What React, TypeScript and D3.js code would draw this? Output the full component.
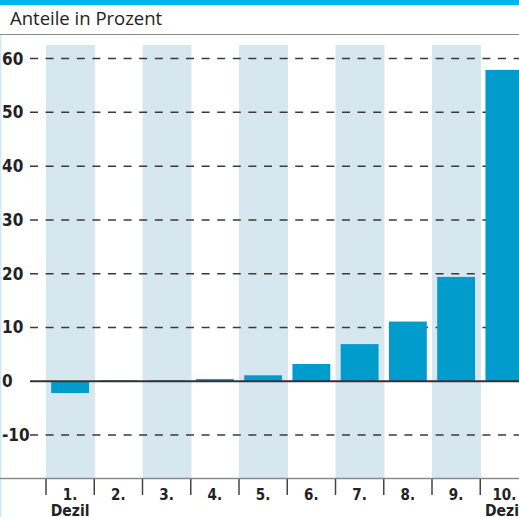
import React from "react";
import * as d3 from "d3";

const categories = ["1.", "2.", "3.", "4.", "5.", "6.", "7.", "8.", "9.", "10."];
const values = [-2.2, 0.15, 0.15, 0.4, 1.1, 3.2, 6.9, 11.1, 19.4, 57.9];
const yTicks = [-10, 0, 10, 20, 30, 40, 50, 60];
const title = "Anteile in Prozent";
const subLabel = "Dezil";

const W = 519;
const H = 517;

export default function App() {
  const x = d3.scaleBand<string>().domain(categories).range([46, 46 + 48.25 * 10]).padding(0);
  const y = d3.scaleLinear().domain([-10, 60]).range([435, 58.6]);
  const step = x.step();
  const inset = 5.2;
  const numFont = "'Liberation Sans Narrow', 'DejaVu Sans Condensed', sans-serif";

  return (
    <svg width={W} height={H} style={{ position: "absolute", left: 0, top: 0 }}>
      <rect x={0} y={0} width={W} height={H} fill="#fff" />
      <rect x={0} y={0} width={W} height={5} fill="#00b4ef" />
      <text x={10} y={25} fontFamily="'Open Sans', 'Noto Sans', sans-serif" fontSize={18.5} fill="#222">
        {title}
      </text>
      <line x1={0} x2={W} y1={34.5} y2={34.5} stroke="#8a8a8a" strokeWidth={1.2} />
      <line x1={0.7} x2={0.7} y1={35} y2={H} stroke="#cfe8f6" strokeWidth={1.5} />

      {categories.map((c, i) =>
        i % 2 === 0 ? (
          <rect key={"band" + c} x={x(c)!} y={45} width={step + 0.7} height={478 - 45} fill="#d6e7f0" />
        ) : null
      )}

      {yTicks.filter((t) => t !== 0).map((t) => (
        <line
          key={"g" + t}
          x1={30}
          x2={W}
          y1={y(t)}
          y2={y(t)}
          stroke="#3a3a3a"
          strokeWidth={1.5}
          strokeDasharray="8,7.6"
        />
      ))}

      {categories.map((c, i) => {
        const v = values[i];
        const y0 = y(0);
        const y1 = y(v);
        return (
          <rect
            key={"bar" + c}
            x={x(c)! + inset}
            y={Math.min(y0, y1)}
            width={step - 2 * inset}
            height={Math.abs(y1 - y0)}
            fill="#009ccc"
          />
        );
      })}

      <line x1={30} x2={W} y1={y(0)} y2={y(0)} stroke="#333" strokeWidth={2} />

      {yTicks.map((t) => (
        <text key={"yl" + t} x={2} y={y(t) + 6} fontFamily={numFont} fontWeight="bold" fontSize={17} fill="#222">
          {t}
        </text>
      ))}

      <line x1={0} x2={W} y1={478.5} y2={478.5} stroke="#8a8a8a" strokeWidth={1.5} />
      {categories.map((c) => (
        <line key={"tk" + c} x1={x(c)!} x2={x(c)!} y1={479} y2={495} stroke="#444" strokeWidth={1.5} />
      ))}
      {categories.map((c, i) => (
        <g key={"xl" + c}>
          <text
            x={x(c)! + step / 2}
            y={499.5}
            textAnchor="middle"
            fontFamily={numFont}
            fontWeight="bold"
            fontSize={15}
            fill="#222"
          >
            {c}
          </text>
          {i === 0 || i === categories.length - 1 ? (
            <text
              x={x(c)! + step / 2}
              y={515.5}
              textAnchor="middle"
              fontFamily={numFont}
              fontWeight="bold"
              fontSize={15.5}
              fill="#222"
            >
              {subLabel}
            </text>
          ) : null}
        </g>
      ))}
    </svg>
  );
}
